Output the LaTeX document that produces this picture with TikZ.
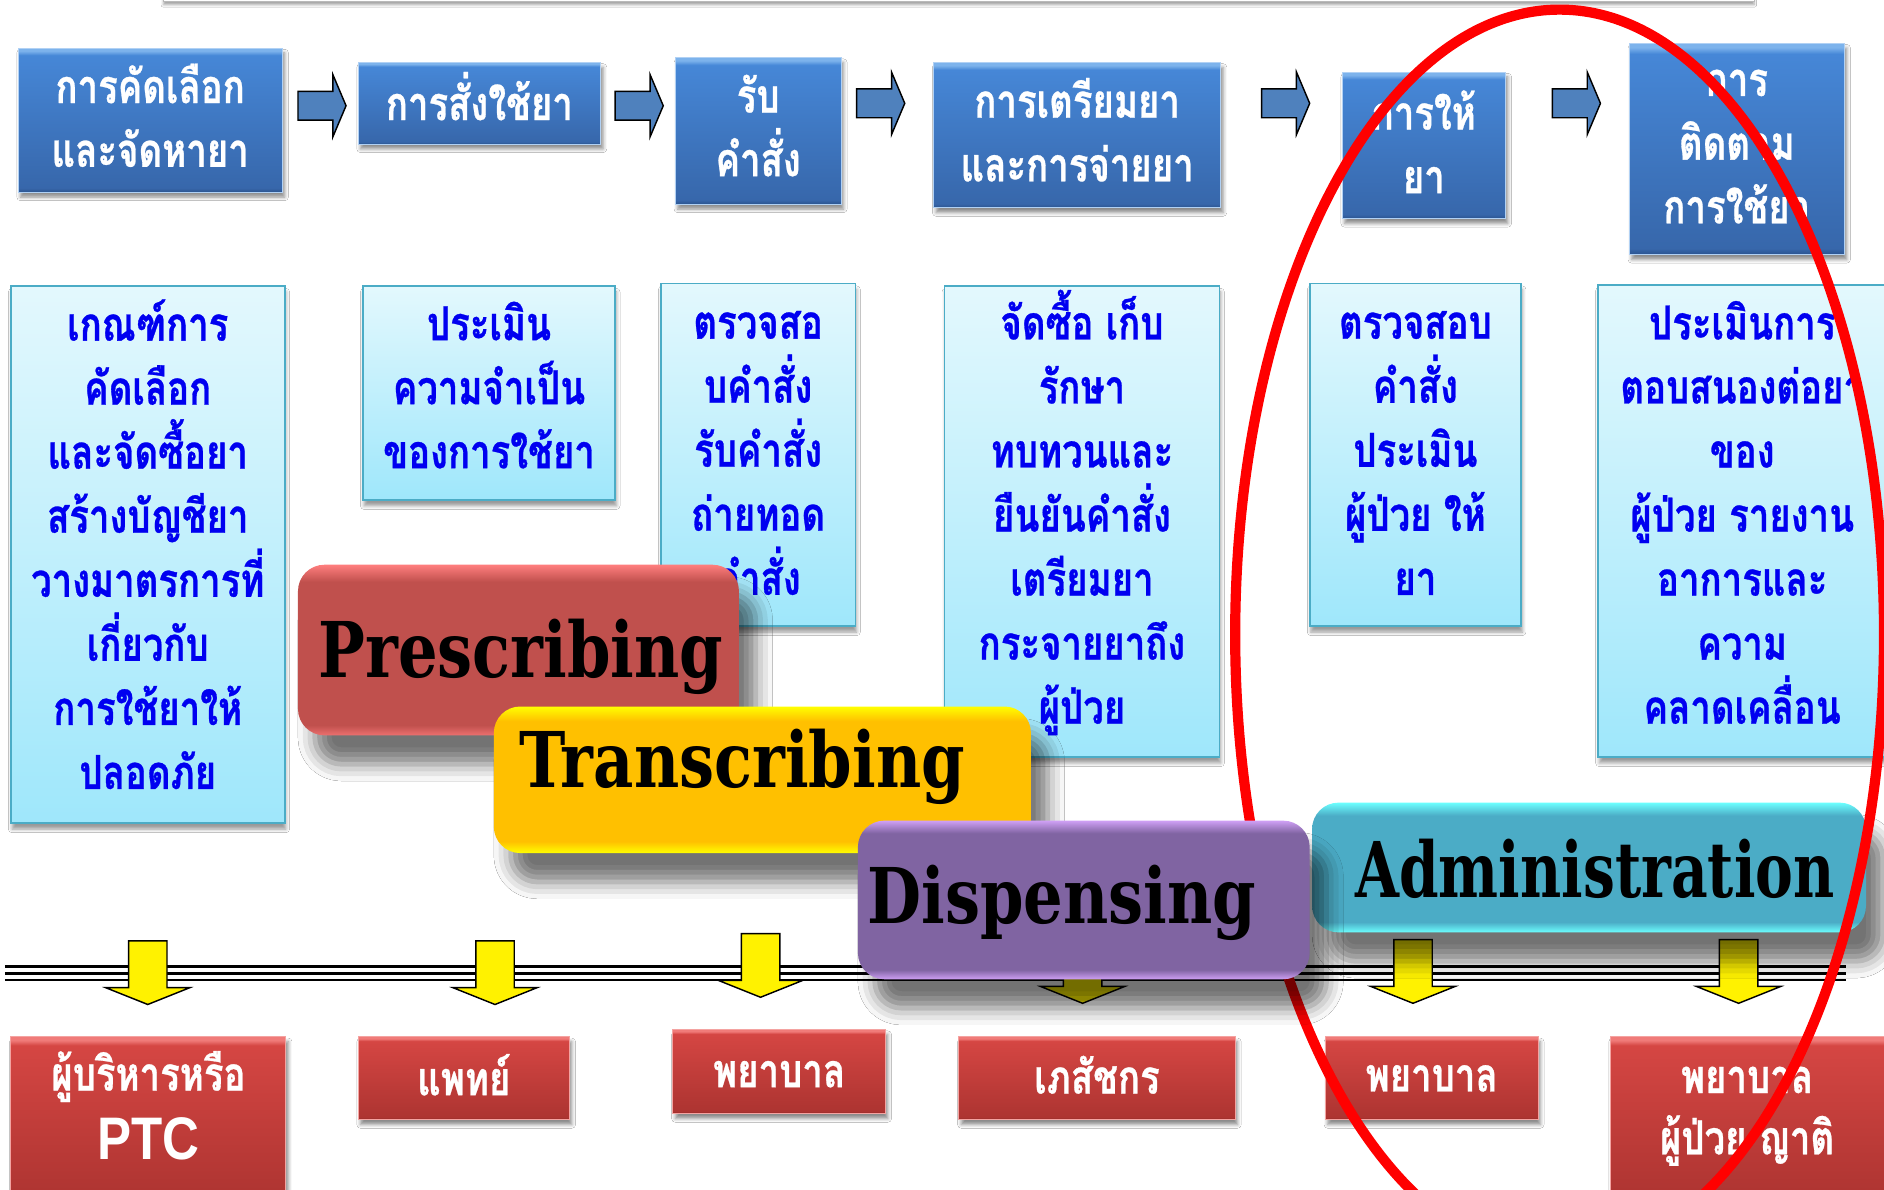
\documentclass[tikz,border=0pt]{standalone}
\usepackage{fontspec}
\usepackage{graphicx}
\usetikzlibrary{shadows,shadows.blur,calc}
\newfontfamily\thai[Script=Thai,FakeStretch=0.78,BoldFeatures={FakeBold=0.6}]{Loma}
\newfontfamily\labelserif[FakeStretch=0.81]{DejaVu Serif}
\newfontfamily\ptcsans[FakeStretch=0.85]{Liberation Sans}
\setlength{\lineskiplimit}{-60pt}

\definecolor{bevTop}{HTML}{7DB3EC}
\definecolor{bevUp}{HTML}{4687D7}
\definecolor{bevLow}{HTML}{3767AB}
\definecolor{bevBot}{HTML}{2A538E}
\definecolor{redTop}{HTML}{F07B79}
\definecolor{redUp}{HTML}{D54643}
\definecolor{redLow}{HTML}{AD3431}
\definecolor{redBot}{HTML}{882725}
\definecolor{paleTop}{HTML}{E3F8FD}
\definecolor{paleBot}{HTML}{9FE7FB}
\definecolor{paleEdge}{HTML}{4BACC6}
\definecolor{thaiBlue}{HTML}{0000F0}
\definecolor{stepArrow}{HTML}{4F81BD}
\definecolor{presMain}{HTML}{C0504D}
\definecolor{presGlow}{HTML}{FF7E7E}
\definecolor{transMain}{HTML}{FFC000}
\definecolor{transGlow}{HTML}{FFFF00}
\definecolor{dispMain}{HTML}{8064A2}
\definecolor{dispGlow}{HTML}{CFA0F5}
\definecolor{adminMain}{HTML}{4BACC6}
\definecolor{adminGlow}{HTML}{6CFFFF}

% bevelled fills for the step boxes and the role boxes
\pgfdeclareverticalshading{bluebevel}{100bp}{color(0bp)=(bevBot); color(25bp)=(bevBot); color(26.5bp)=(bevLow); color(72.5bp)=(bevUp); color(74bp)=(bevTop); color(100bp)=(bevTop)}
\pgfdeclareverticalshading{redbevel}{100bp}{color(0bp)=(redBot); color(25bp)=(redBot); color(26.5bp)=(redLow); color(72.5bp)=(redUp); color(74bp)=(redTop); color(100bp)=(redTop)}
% soft glowing edges for the phase labels
\pgfdeclareverticalshading{presshade}{100bp}{color(0bp)=(presGlow); color(25bp)=(presGlow!70!presMain); color(28bp)=(presMain); color(70bp)=(presMain); color(75bp)=(presGlow); color(100bp)=(presGlow)}
\pgfdeclareverticalshading{transshade}{100bp}{color(0bp)=(transGlow); color(25bp)=(transGlow); color(29bp)=(transMain); color(70bp)=(transMain); color(75bp)=(transGlow); color(100bp)=(transGlow)}
\pgfdeclareverticalshading{dispshade}{100bp}{color(0bp)=(dispGlow); color(25bp)=(dispGlow); color(28bp)=(dispMain); color(71bp)=(dispMain); color(75bp)=(dispGlow); color(100bp)=(dispGlow)}
\pgfdeclareverticalshading{adminshade}{100bp}{color(0bp)=(adminGlow); color(25bp)=(adminGlow); color(29bp)=(adminMain); color(70bp)=(adminMain); color(75bp)=(adminGlow); color(100bp)=(adminGlow)}

\tikzset{
  stepbox/.style={rectangle, draw=bevTop!60!white, line width=0.8pt, shade, shading=bluebevel, inner sep=0pt,
    blur shadow={shadow xshift=2pt, shadow yshift=-4pt, shadow blur radius=3pt, shadow opacity=45}},
  steptext/.style={inner sep=0pt, text=white, align=center, font=\thai\bfseries\fontsize{39}{53}\selectfont},
  rolebox/.style={stepbox, draw=redTop!70!white, shading=redbevel},
  roletext/.style={steptext, font=\thai\bfseries\fontsize{39}{51}\selectfont},
  palebox/.style={rectangle, draw=paleEdge, line width=1.5pt, top color=paleTop, bottom color=paleBot, inner sep=0pt,
    blur shadow={shadow xshift=1pt, shadow yshift=-5pt, shadow blur radius=3pt, shadow opacity=40}},
  paletext/.style={inner sep=0pt, text=thaiBlue, align=center, font=\thai\bfseries\fontsize{39}{53.3}\selectfont},
  phasebox/.style={rectangle, rounded corners=22pt, shade, inner sep=0pt,
    blur shadow={shadow xshift=14pt, shadow yshift=-24pt, shadow blur radius=14pt, shadow opacity=55}},
  phasetext/.style={anchor=west, inner sep=0pt, text=black, font=\labelserif\bfseries\fontsize{64}{64}\selectfont},
  rightarrow/.pic={\path[draw=black, line width=1.2pt, fill=stepArrow]
    (0,-12) -- (29,-12) -- (29,-26) -- (40,0) -- (29,26) -- (29,12) -- (0,12) -- cycle;},
  downarrow/.pic={\path[draw=black, line width=1.2pt, fill=yellow]
    (-16,0) -- (16,0) -- (16,39) -- (35,39) -- (0,53) -- (-35,39) -- (-16,39) -- cycle;}
}

\begin{document}
\begin{tikzpicture}[x=1pt, y=-1pt]
\useasboundingbox[fill=white] (0,0) rectangle (1568,990);

% edge of the title panel above
\node[rectangle, draw=gray!55, fill=white, minimum width=1324pt, minimum height=30pt,
  blur shadow={shadow xshift=0pt, shadow yshift=-3pt, shadow blur radius=2pt, shadow opacity=35}]
  (panel) at (798,-14) {};

% process steps
\node[stepbox, minimum width=220pt, minimum height=120pt] (t1) at (125,100) {};
\node[steptext] (t1txt) at (125,96) {การคัดเลือก\\และจัดหายา};
\node[stepbox, minimum width=202pt, minimum height=68pt] (t2) at (399,86) {};
\node[steptext] (t2txt) at (399,80) {การสั่งใช้ยา};
\node[stepbox, minimum width=138pt, minimum height=122pt] (t3) at (631,109) {};
\node[steptext] (t3txt) at (631,104.5) {รับ\\คำสั่ง};
\node[stepbox, minimum width=239pt, minimum height=121pt] (t4) at (896.5,112.5) {};
\node[steptext] (t4txt) at (896.5,108) {การเตรียมยา\\และการจ่ายยา};
\node[stepbox, minimum width=136pt, minimum height=122pt] (t5) at (1185,121) {};
\node[steptext] (t5txt) at (1185,118) {การให้\\ยา};
\node[stepbox, minimum width=179pt, minimum height=176pt] (t6) at (1445.5,124) {};
\node[steptext] (t6txt) at (1445.5,122) {การ\\ติดตาม\\การใช้ยา};

\pic at (248,88) {rightarrow};
\pic at (512,88) {rightarrow};
\pic at (713,86) {rightarrow};
\pic at (1050,86) {rightarrow};
\pic at (1292,86) {rightarrow};

% tasks of each step
\node[palebox, minimum width=228pt, minimum height=447pt] (l1) at (123,461.5) {};
\node[paletext] (l1txt) at (123,453)
  {เกณฑ์การ\\คัดเลือก\\และจัดซื้อยา\\สร้างบัญชียา\\วางมาตรการที่\\เกี่ยวกับ\\การใช้ยาให้\\ปลอดภัย};
\node[palebox, minimum width=210pt, minimum height=178pt] (l2) at (407,327) {};
\node[paletext] (l2txt) at (407,320.5) {ประเมิน\\ความจำเป็น\\ของการใช้ยา};
\node[palebox, minimum width=162pt, minimum height=285pt] (l3) at (631,378.5) {};
\node[paletext] (l3txt) at (631,377) {ตรวจสอ\\บคำสั่ง\\รับคำสั่ง\\ถ่ายทอด\\คำสั่ง};
\node[palebox, minimum width=229pt, minimum height=392pt] (l4) at (900.5,434) {};
\node[paletext] (l4txt) at (900.5,426.5)
  {จัดซื้อ เก็บ\\รักษา\\ทบทวนและ\\ยืนยันคำสั่ง\\เตรียมยา\\กระจายยาถึง\\ผู้ป่วย};
\node[palebox, minimum width=176pt, minimum height=285pt] (l5) at (1178,378.5) {};
\node[paletext] (l5txt) at (1178,377) {ตรวจสอบ\\คำสั่ง\\ประเมิน\\ผู้ป่วย ให้\\ยา};
\node[palebox, minimum width=240pt, minimum height=393pt] (l6) at (1450,433.5) {};
\node[paletext] (l6txt) at (1450,426.5)
  {ประเมินการ\\ตอบสนองต่อยา\\ของ\\ผู้ป่วย รายงาน\\อาการและ\\ความ\\คลาดเคลื่อน};

% the triple rule and the arrows down to the responsible persons
\foreach \yy in {804.5,810,815.5}
  \draw[line width=2.2pt] (4,\yy) -- (1536,\yy);
\pic at (123,783) {downarrow};
\pic at (412,783) {downarrow};
\pic at (633,777) {downarrow};
\pic at (901,782) {downarrow};
\pic at (1176,782) {downarrow};
\pic at (1447,782) {downarrow};

% responsible persons
\node[rolebox, minimum width=229pt, minimum height=140pt] (b1) at (123.5,933) {};
\node[roletext] (b1txt) at (123.5,896) {ผู้บริหารหรือ};
\node[inner sep=0pt, text=white, font=\ptcsans\bfseries\fontsize{50}{51}\selectfont] (ptc) at (123.5,948) {PTC};
\node[rolebox, minimum width=176pt, minimum height=69pt] (b2) at (386,897.5) {};
\node[roletext] (b2txt) at (386,894.5) {แพทย์};
\node[rolebox, minimum width=177pt, minimum height=70pt] (b3) at (648.5,892) {};
\node[roletext] (b3txt) at (648.5,894) {พยาบาล};
\node[rolebox, minimum width=230pt, minimum height=69pt] (b4) at (913,897.5) {};
\node[roletext] (b4txt) at (913,894.5) {เภสัชกร};
\node[rolebox, minimum width=177pt, minimum height=69pt] (b5) at (1191.5,897.5) {};
\node[roletext] (b5txt) at (1191.5,897.5) {พยาบาล};
\node[rolebox, minimum width=228pt, minimum height=140pt] (b6) at (1454,933) {};
\node[roletext] (b6txt) at (1454,929) {พยาบาล\\ผู้ป่วย ญาติ};

% phase labels
\node[phasebox, shading=presshade, minimum width=367pt, minimum height=142pt] (pres) at (431.5,541) {};
\node[phasetext] (prestxt) at ([xshift=17pt,yshift=-6pt]pres.west) {Prescribing};
\node[phasebox, shading=transshade, minimum width=447pt, minimum height=122pt] (trans) at (634.5,649) {};
\node[phasetext] (transtxt) at ([xshift=21pt,yshift=11pt]trans.west) {Transcribing};
\node[phasebox, shading=adminshade, minimum width=461pt, minimum height=108pt] (admin) at (1322.5,722) {};
\node[phasetext] (admintxt) at ([xshift=36pt,yshift=-1pt]admin.west) {\scalebox{0.91}[1]{Administration}};

% highlight around administration and monitoring
\draw[red, line width=8.5pt] (1298,528) ellipse [x radius=270, y radius=520];

\node[phasebox, shading=dispshade, minimum width=376pt, minimum height=132pt] (disp) at (902,749) {};
\node[phasetext] (disptxt) at ([xshift=8pt,yshift=-2pt]disp.west) {Dispensing};
\end{tikzpicture}
\end{document}
